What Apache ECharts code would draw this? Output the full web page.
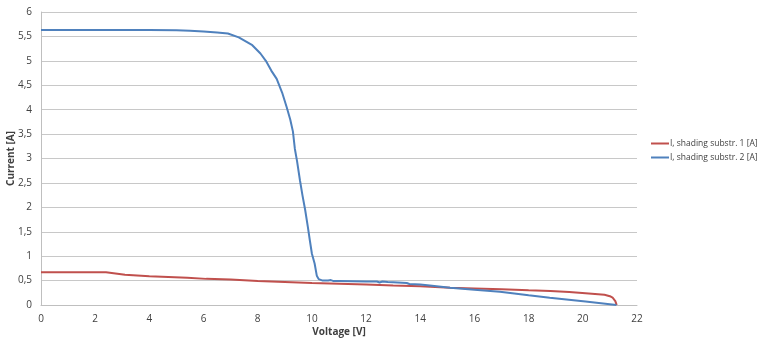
<!DOCTYPE html>
<html>
<head>
<meta charset="utf-8">
<script src="https://cdn.jsdelivr.net/npm/echarts@6/dist/echarts.min.js"></script>
<style>html,body{margin:0;padding:0;background:#fff;}#c{width:759px;height:341px;}</style>
</head>
<body>
<div id="c"></div>
<script>
const seriesNames = ['I, shading substr. 1 [A]', 'I, shading substr. 2 [A]'];
const xTicks = [0, 2, 4, 6, 8, 10, 12, 14, 16, 18, 20, 22];
const yTicks = [0, 0.5, 1, 1.5, 2, 2.5, 3, 3.5, 4, 4.5, 5, 5.5, 6];
const redVoltage = [0, 2.4, 3.1, 4, 5.4, 6.1, 7, 8, 9, 10, 11, 12, 13, 14, 15.1, 16, 17, 18, 18.8, 19.5, 20.1, 20.8, 21.0, 21.1, 21.2, 21.25];
const redCurrent = [0.67, 0.67, 0.62, 0.59, 0.56, 0.535, 0.52, 0.49, 0.47, 0.45, 0.435, 0.42, 0.40, 0.385, 0.355, 0.34, 0.32, 0.30, 0.285, 0.265, 0.24, 0.21, 0.18, 0.15, 0.08, 0];
const blueVoltage = [0, 2, 4, 5, 5.5, 6, 6.5, 6.9, 7.3, 7.8, 8.1, 8.3, 8.5, 8.7, 8.9, 9.07, 9.2, 9.3, 9.37, 9.45, 9.56, 9.65, 9.75, 9.85, 9.93, 10.0, 10.1, 10.18, 10.25, 10.4, 10.6, 10.7, 10.8, 11.0, 11.5, 12.0, 12.4, 12.5, 12.6, 12.8, 13.0, 13.5, 13.6, 14.0, 14.35, 15.1, 16, 16.94, 18, 18.78, 20.1, 21.24];
const blueCurrent = [5.63, 5.63, 5.63, 5.625, 5.615, 5.60, 5.58, 5.56, 5.48, 5.32, 5.15, 5.0, 4.8, 4.63, 4.35, 4.05, 3.8, 3.55, 3.2, 2.95, 2.55, 2.25, 1.95, 1.6, 1.3, 1.05, 0.85, 0.6, 0.53, 0.5, 0.5, 0.51, 0.49, 0.49, 0.485, 0.48, 0.48, 0.46, 0.48, 0.47, 0.465, 0.45, 0.43, 0.42, 0.40, 0.355, 0.31, 0.27, 0.20, 0.15, 0.07, 0];

const zip = (a, b) => a.map((v, i) => [v, b[i]]);
const chart = echarts.init(document.getElementById('c'));
const font = 'Open Sans';
chart.setOption({
  animation: false,
  backgroundColor: '#fff',
  grid: { left: 41, right: 122, top: 12, bottom: 36, containLabel: false, outerBoundsMode: 'none' },
  legend: {
    orient: 'vertical', left: 651, top: 139, padding: 0,
    itemWidth: 18, itemHeight: 2, itemGap: 5,
    icon: 'rect',
    textStyle: { fontFamily: font, fontSize: 8.5, color: '#404040', padding: [0, 0, 0, -4], width: 110, overflow: 'none' },
    data: seriesNames
  },
  xAxis: {
    type: 'value', min: xTicks[0], max: xTicks[xTicks.length - 1], interval: 2,
    name: 'Voltage [V]', nameLocation: 'middle', nameGap: 22, nameMoveOverlap: false,
    nameTextStyle: { fontFamily: font, fontSize: 10, fontWeight: 'bold', color: '#404040' },
    axisLine: { show: true, lineStyle: { color: '#bfbfbf', width: 1 } },
    axisTick: { show: false },
    splitLine: { show: false },
    axisLabel: { fontFamily: font, fontSize: 10, color: '#404040', margin: 9 }
  },
  yAxis: {
    type: 'value', min: yTicks[0], max: yTicks[yTicks.length - 1], interval: 0.5,
    name: 'Current [A]', nameLocation: 'middle', nameGap: 25, nameRotate: 90, nameMoveOverlap: false,
    nameTextStyle: { fontFamily: font, fontSize: 10, fontWeight: 'bold', color: '#404040' },
    axisLine: { show: true, lineStyle: { color: '#bfbfbf', width: 1 } },
    axisTick: { show: false },
    splitLine: { show: true, lineStyle: { color: '#c8c8c8', width: 1 } },
    axisLabel: { fontFamily: font, fontSize: 10, color: '#404040', margin: 9,
      formatter: v => String(v).replace('.', ',') }
  },
  series: [
    { name: seriesNames[0], type: 'line', data: zip(redVoltage, redCurrent), showSymbol: false,
      lineStyle: { color: '#c0504d', width: 2 }, itemStyle: { color: '#c0504d' } },
    { name: seriesNames[1], type: 'line', data: zip(blueVoltage, blueCurrent), showSymbol: false,
      lineStyle: { color: '#4f81bd', width: 2 }, itemStyle: { color: '#4f81bd' } }
  ]
});
</script>
</body>
</html>
